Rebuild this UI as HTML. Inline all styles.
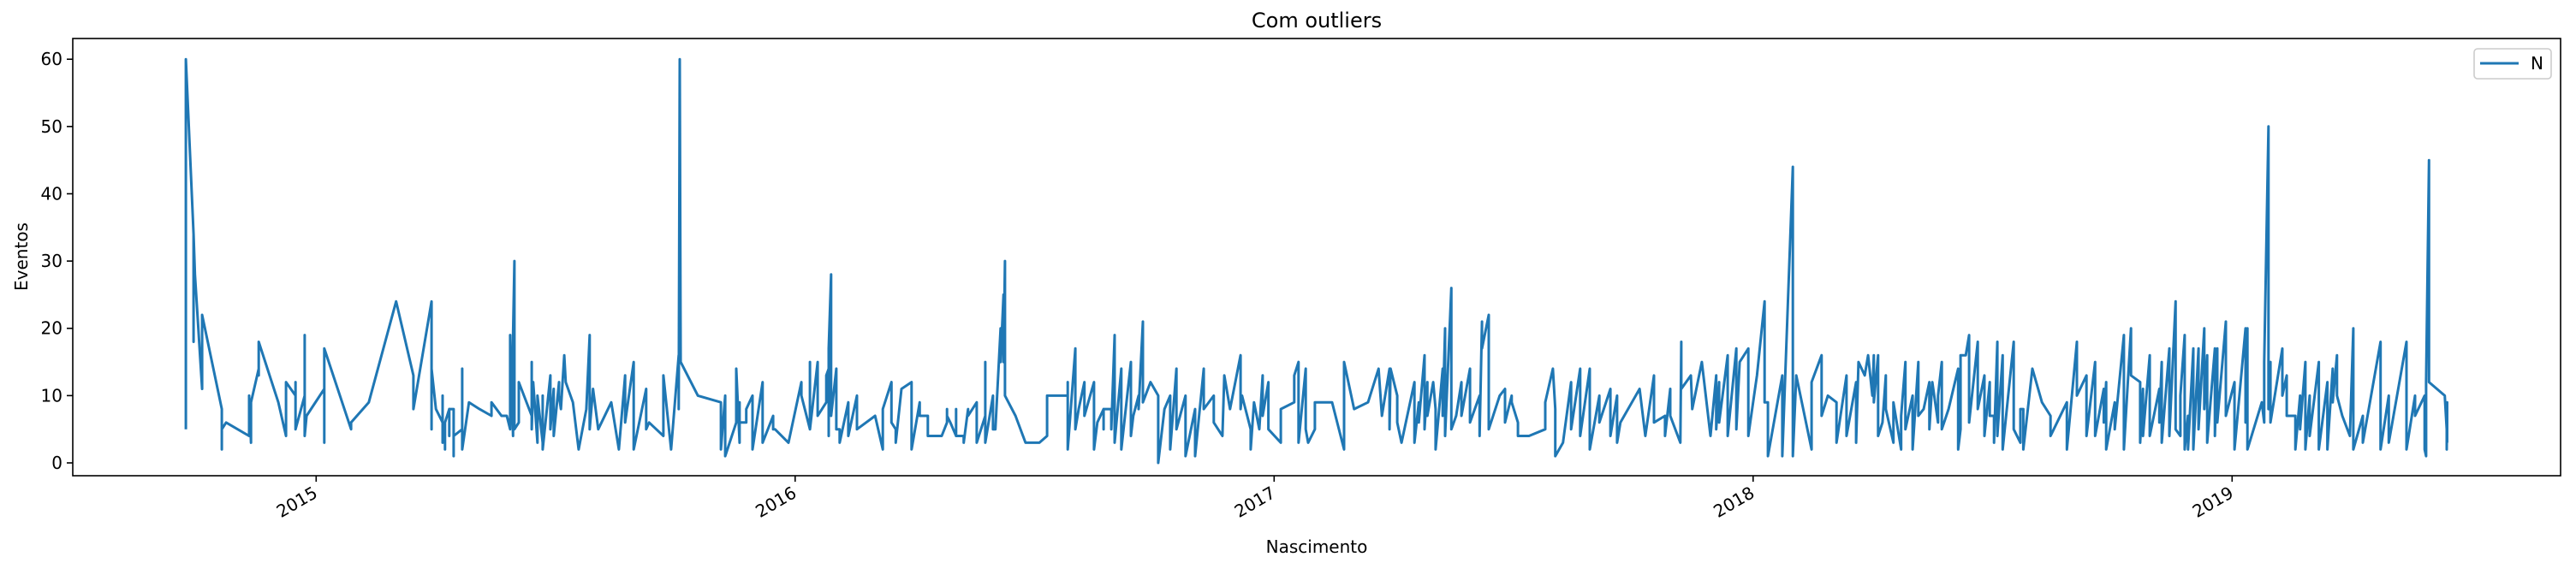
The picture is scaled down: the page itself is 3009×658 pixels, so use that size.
<!DOCTYPE html>
<html><head><meta charset="utf-8"><style>
html,body{margin:0;padding:0;background:#fff;}
svg{display:block;font-family:"DejaVu Sans","Liberation Sans",sans-serif;}
</style></head><body>
<svg id="chart" width="3009" height="658" viewBox="0 0 3009 658" xmlns="http://www.w3.org/2000/svg">
<rect x="0" y="0" width="3009" height="658" fill="#fff"/>
<text x="1538" y="32" font-size="24" text-anchor="middle" fill="#000">Com outliers</text>
<g id="grid"></g>
<path id="series" fill="none" stroke="#1f77b4" stroke-width="3" stroke-linejoin="round"/>
<rect x="85" y="45" width="2906" height="511" fill="none" stroke="#000" stroke-width="1.6"/>
<g id="yaxis"></g>
<g id="xaxis"></g>
<text x="1538" y="646" font-size="20" text-anchor="middle" fill="#000">Nascimento</text>
<text transform="translate(32,300) rotate(-90)" font-size="20" text-anchor="middle" fill="#000">Eventos</text>
<g>
<rect x="2890" y="57" width="90" height="35" rx="4" fill="#fff" fill-opacity="0.8" stroke="#ccc" stroke-width="1.6"/>
<line x1="2897" y1="74" x2="2942" y2="74" stroke="#1f77b4" stroke-width="3"/>
<text x="2956" y="81" font-size="20" fill="#000">N</text>
</g>
</svg>
<script>
const yTicks=[0,10,20,30,40,50,60];
const xTickYears=[2015,2016,2017,2018,2019];
const xTickLabels=["2015","2016","2017","2018","2019"];
const dates=[2014.728,2014.744,2014.747,2014.762,2014.803,2014.812,2014.860,2014.864,2014.880,2014.921,2014.937,2014.957,2014.976,2014.980,2015.017,2015.073,2015.110,2015.167,2015.203,2015.241,2015.250,2015.264,2015.269,2015.278,2015.287,2015.305,2015.319,2015.341,2015.366,2015.387,2015.398,2015.405,2015.411,2015.414,2015.423,2015.450,2015.453,2015.462,2015.473,2015.489,2015.496,2015.507,2015.511,2015.518,2015.521,2015.536,2015.548,2015.564,2015.571,2015.578,2015.589,2015.616,2015.632,2015.645,2015.663,2015.689,2015.695,2015.725,2015.741,2015.757,2015.759,2015.761,2015.797,2015.845,2015.854,2015.877,2015.884,2015.898,2015.911,2015.932,2015.954,2015.958,2015.986,2016.013,2016.031,2016.047,2016.065,2016.070,2016.075,2016.086,2016.093,2016.111,2016.129,2016.167,2016.183,2016.201,2016.210,2016.222,2016.243,2016.260,2016.277,2016.297,2016.306,2016.317,2016.324,2016.336,2016.352,2016.361,2016.379,2016.397,2016.413,2016.418,2016.429,2016.435,2016.438,2016.460,2016.481,2016.510,2016.526,2016.569,2016.585,2016.592,2016.604,2016.624,2016.631,2016.644,2016.660,2016.667,2016.681,2016.701,2016.706,2016.717,2016.726,2016.742,2016.758,2016.771,2016.783,2016.796,2016.815,2016.835,2016.853,2016.874,2016.892,2016.896,2016.908,2016.930,2016.933,2016.951,2016.958,2016.969,2016.976,2016.988,2017.014,2017.042,2017.051,2017.066,2017.071,2017.085,2017.121,2017.146,2017.167,2017.196,2017.218,2017.225,2017.241,2017.243,2017.257,2017.266,2017.293,2017.302,2017.314,2017.320,2017.332,2017.337,2017.352,2017.357,2017.370,2017.380,2017.391,2017.409,2017.429,2017.434,2017.448,2017.471,2017.482,2017.496,2017.509,2017.532,2017.566,2017.582,2017.587,2017.603,2017.620,2017.639,2017.659,2017.679,2017.702,2017.716,2017.723,2017.763,2017.775,2017.793,2017.816,2017.827,2017.848,2017.850,2017.870,2017.873,2017.893,2017.911,2017.923,2017.929,2017.947,2017.965,2017.972,2017.990,2018.002,2018.008,2018.024,2018.031,2018.061,2018.083,2018.090,2018.122,2018.143,2018.156,2018.174,2018.195,2018.215,2018.220,2018.233,2018.240,2018.249,2018.252,2018.261,2018.270,2018.277,2018.293,2018.309,2018.318,2018.333,2018.345,2018.356,2018.368,2018.374,2018.386,2018.394,2018.408,2018.428,2018.433,2018.444,2018.451,2018.469,2018.483,2018.494,2018.503,2018.510,2018.521,2018.544,2018.558,2018.564,2018.583,2018.603,2018.621,2018.655,2018.676,2018.696,2018.714,2018.732,2018.737,2018.755,2018.774,2018.789,2018.808,2018.814,2018.828,2018.848,2018.853,2018.869,2018.882,2018.892,2018.901,2018.908,2018.919,2018.930,2018.942,2018.948,2018.964,2018.969,2018.987,2019.005,2019.028,2019.032,2019.062,2019.067,2019.076,2019.080,2019.105,2019.114,2019.132,2019.142,2019.153,2019.162,2019.181,2019.199,2019.210,2019.219,2019.230,2019.246,2019.253,2019.273,2019.310,2019.327,2019.364,2019.382,2019.402,2019.405,2019.411,2019.444,2019.448,2019.449];
const values=[[5,60],[34,18,34],[28],[11,22],[8,2,5],[6],[4,10],[3,9],[14,13,18],[9],[4,12],[10,12,5],[10,19,4,19,4],[7],[11,3,17],[5,6],[9],[24],[13,8],[24,16,14,5,14],[8],[6,10,3],[6,2,6],[8,4,8],[8,1,4],[5,11,5,14,2],[9],[8],[7,9],[7],[7],[5,19],[4,19],[30,5],[6,12],[7,15,5],[12],[3,10],[3,10,2],[13,5],[11,4],[12,10],[8],[16],[12],[9],[2],[8],[19,5],[11,11],[5],[9],[2],[13,6],[15,2],[11,5],[6],[4,13],[2],[16,8],[60],[15],[10],[9,2],[10,1],[6,14],[3,9,6],[6,8],[10,2],[12,5,3],[7,5],[5],[3],[12,10],[5,15,5],[15,10,7],[9,13],[14,4,17],[28,7],[14,5],[5,3],[9,4],[10,5],[7],[2,8],[12,6],[5,3],[11],[12,7,2],[9,7],[7,4],[4,4],[4],[6,8,7],[6],[4,8,4],[4,3],[8,7],[9,3],[7,15,3],[10,5],[5],[20,15],[25,15],[30,10],[7],[3],[3],[4,10],[10,12,2],[17,5],[8,8],[12,7],[12,2],[6],[8,5,8],[8,5],[19,3],[14,2],[15,4],[7],[10,8],[21,9],[12],[10,0],[8],[10,2],[14,5],[10,1],[8,1],[14,8],[10,6],[4],[13],[8],[16,8],[10],[5,2],[9,9],[5],[13,7],[12,5],[3,8],[9,13],[15,3],[14,5],[3],[5,9],[9],[2,15],[8],[9],[14],[7],[14,5],[14],[10,6],[3],[12,8,10,3],[9,6],[16,5],[12,7],[12],[8,2],[14,7],[20,4],[26,5],[7,7],[12,7],[14,6],[10,4],[21,17],[22,5],[10,10],[11,6],[10,9],[6,4],[4],[5,9],[14],[8,1],[3],[12,5],[14,4],[14,2],[10,6],[11,4],[10,3],[6],[11],[4],[13,6],[7,4],[11,7],[3],[18,11],[13],[8],[15],[4],[13,5],[12,6],[16,4],[17,5],[15],[17,4],[10],[13],[24,9],[9,1],[13,1],[44,1],[13],[2,12],[16,7],[10],[9,3],[13,4],[12,3],[15],[13],[16],[10],[16,9],[16,4],[6],[13,8],[3,9],[2,7],[15,5],[10,2],[15,7],[8],[12,5],[12],[6,10],[15,5],[8],[14,2],[5,16],[16],[19,6],[18,8],[13,4],[12,7],[7,3],[18,4],[16,2],[18,5],[3,8],[8,2],[14],[9],[7,4],[9,2],[18,10],[13,4],[15,4],[11,6],[12,2],[9,5],[19,2],[20,13],[12,3],[11,4],[16,4],[11,6],[15,3],[17,4],[24,5],[4,10],[19,2],[7,2],[17,2],[17,5],[20,8],[16,3],[17,4],[17,6],[21,7],[12,2],[20,6],[20,2],[9],[6,15],[50,8],[13,15,6],[17,10],[13,7],[7,2],[10,5],[15,2],[10,4],[15,2],[12,2],[14,9],[16,10],[7],[4],[20,2],[7,3],[18,2],[10,10,3],[18,2],[10,7],[10,2],[1,12],[45,12],[10],[5,2],[9,3],[12]];

const X0=85,X1=2991,Y0=45,Y1=556;
function xScale(d){return 369.3+(d-2015)*559.5;}
function yScale(v){return 541-v*7.863;}
const NS="http://www.w3.org/2000/svg";
let pts=[];
for(let i=0;i<dates.length;i++){
  const vs=values[i];
  for(let j=0;j<vs.length;j++){pts.push(xScale(dates[i]).toFixed(1)+","+yScale(vs[j]).toFixed(1));}
}
document.getElementById('series').setAttribute('d','M'+pts.join('L'));

const ya=document.getElementById('yaxis');
yTicks.forEach(t=>{
  const y=yScale(t);
  const l=document.createElementNS(NS,'line');
  l.setAttribute('x1',X0-7);l.setAttribute('x2',X0);l.setAttribute('y1',y);l.setAttribute('y2',y);
  l.setAttribute('stroke','#000');l.setAttribute('stroke-width','1.6');
  
  
  ya.appendChild(l);
  const tx=document.createElementNS(NS,'text');
  tx.setAttribute('x',X0-12);tx.setAttribute('y',y+7);tx.setAttribute('font-size','20');tx.setAttribute('text-anchor','end');
  tx.textContent=String(t);
  
  
  ya.appendChild(tx);
});
const xa=document.getElementById('xaxis');
xTickYears.forEach((yr,i)=>{
  const x=xScale(yr);
  const l=document.createElementNS(NS,'line');
  l.setAttribute('x1',x);l.setAttribute('x2',x);l.setAttribute('y1',Y1);l.setAttribute('y2',Y1+7);
  l.setAttribute('stroke','#000');l.setAttribute('stroke-width','1.6');
  
  
  xa.appendChild(l);
  const tx=document.createElementNS(NS,'text');
  tx.setAttribute('transform','translate('+(x+3)+','+(Y1+24)+') rotate(-30)');
  tx.setAttribute('font-size','20');tx.setAttribute('text-anchor','end');
  tx.textContent=xTickLabels[i];
  
  
  xa.appendChild(tx);
});
</script>
</body></html>
